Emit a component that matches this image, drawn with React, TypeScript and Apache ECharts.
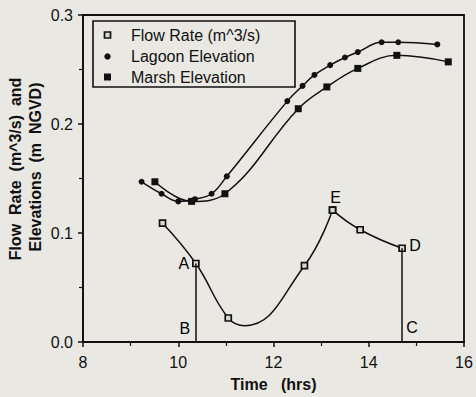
import React, { useEffect, useRef } from "react";
import * as echarts from "echarts";

const xTicks = [8, 10, 12, 14, 16];
const yTicks = [0, 0.1, 0.2, 0.3];

const flowTime = [9.67, 10.37, 11.05, 11.4, 12.65, 13.24, 13.82, 14.7];
const flowValue = [0.109, 0.072, 0.022, 0.015, 0.07, 0.121, 0.103, 0.086];
const flowMarked = [true, true, true, false, true, true, true, true];

const lagoonTime = [9.23, 9.65, 10.0, 10.35, 10.7, 11.02, 12.29, 12.61, 12.86, 13.19, 13.5, 13.77, 14.27, 14.62, 15.44];
const lagoonValue = [0.147, 0.136, 0.129, 0.131, 0.136, 0.152, 0.221, 0.235, 0.245, 0.254, 0.261, 0.266, 0.275, 0.275, 0.273];

const marshTime = [9.51, 10.28, 10.98, 12.52, 13.12, 13.77, 14.59, 15.67];
const marshValue = [0.147, 0.129, 0.136, 0.214, 0.234, 0.251, 0.263, 0.257];

const legendNames = ["Flow Rate (m^3/s)", "Lagoon Elevation", "Marsh Elevation"];
const yTitleLines = ["Flow  Rate  (m^3/s)  and", "Elevations  (m  NGVD)"];
const xTitle = "Time   (hrs)";

const FONT = "Liberation Sans, Arial, Helvetica, sans-serif";
const INK = "#111";
const BG = "#e9e8e3";

export default function App() {
  const ref = useRef<HTMLDivElement>(null);
  useEffect(() => {
    document.body.style.margin = "0";
    document.body.style.background = BG;
    if (!ref.current) return;
    const chart = echarts.init(ref.current, null, { renderer: "svg" });

    const flowPts = flowTime.map((t, i) =>
      flowMarked[i] ? [t, flowValue[i]] : { value: [t, flowValue[i]], symbol: "none" }
    );
    const peak = 5;
    const flowStyle = {
      symbol: "rect",
      symbolSize: 6,
      itemStyle: { color: "#d8d8d2", borderColor: INK, borderWidth: 1.7 },
      lineStyle: { color: INK, width: 1.5 },
      smooth: 0.45,
    };
    const lastF = flowTime.length - 1;

    const option: any = {
      animation: false,
      backgroundColor: BG,
      grid: { left: 83, right: 12, top: 15, bottom: 49, show: true, borderColor: INK, borderWidth: 1.8 },
      xAxis: {
        type: "value",
        min: xTicks[0],
        max: xTicks[xTicks.length - 1],
        interval: 2,
        name: xTitle,
        nameLocation: "middle",
        nameGap: 34,
        nameTextStyle: { fontFamily: FONT, fontWeight: "bold", fontSize: 16, color: INK },
        axisLine: { show: true, lineStyle: { color: INK, width: 1.8 } },
        axisTick: { show: true, length: 5, inside: false, lineStyle: { color: INK, width: 1.5 } },
        minorTick: { show: true, splitNumber: 2, length: 4, lineStyle: { color: INK, width: 1.2 } },
        splitLine: { show: false },
        axisLabel: { fontFamily: FONT, fontSize: 16, color: INK, margin: 12 },
      },
      yAxis: {
        type: "value",
        min: yTicks[0],
        max: yTicks[yTicks.length - 1],
        interval: 0.1,
        axisLine: { show: true, lineStyle: { color: INK, width: 1.8 } },
        axisTick: { show: true, length: 5, inside: false, lineStyle: { color: INK, width: 1.5 } },
        minorTick: { show: true, splitNumber: 2, length: 4, lineStyle: { color: INK, width: 1.2 } },
        splitLine: { show: false },
        axisLabel: { fontFamily: FONT, fontSize: 16, color: INK, margin: 10, formatter: (v: number) => v.toFixed(1) },
      },
      series: [
        {
          name: legendNames[1],
          type: "line",
          data: lagoonTime.map((t, i) => [t, lagoonValue[i]]),
          symbol: "circle",
          symbolSize: 6,
          itemStyle: { color: INK },
          lineStyle: { color: INK, width: 1.5 },
          smooth: 0.4,
        },
        {
          name: legendNames[2],
          type: "line",
          data: marshTime.map((t, i) => [t, marshValue[i]]),
          symbol: "rect",
          symbolSize: 7,
          itemStyle: { color: INK },
          lineStyle: { color: INK, width: 1.5 },
          smooth: 0.4,
        },
        {
          name: legendNames[0],
          type: "line",
          data: flowPts.slice(0, peak + 1),
          ...flowStyle,
          markLine: {
            silent: true,
            symbol: ["none", "none"],
            label: { show: false },
            lineStyle: { color: INK, width: 1.5, type: "solid" },
            data: [
              [{ coord: [flowTime[1], flowValue[1]] }, { coord: [flowTime[1], 0] }],
              [{ coord: [flowTime[lastF], flowValue[lastF]] }, { coord: [flowTime[lastF], 0] }],
            ],
          },
        },
        {
          name: legendNames[0],
          type: "line",
          data: flowPts.slice(peak),
          ...flowStyle,
        },
        {
          name: "labels",
          type: "scatter",
          symbolSize: 0,
          silent: true,
          itemStyle: { color: "#000", opacity: 1 },
          label: {
            show: true,
            fontFamily: FONT,
            fontSize: 16,
            color: "#000",
            textBorderWidth: 0,
            opacity: 1,
            align: "center",
            verticalAlign: "middle",
          },
          data: [
            { value: [flowTime[1], flowValue[1]], label: { formatter: "A", position: [-12, 0] } },
            { value: [flowTime[1], 0], label: { formatter: "B", position: [-11, -14] } },
            { value: [flowTime[lastF], 0], label: { formatter: "C", position: [10, -15] } },
            { value: [flowTime[lastF], flowValue[lastF]], label: { formatter: "D", position: [13, -3] } },
            { value: [flowTime[peak], flowValue[peak]], label: { formatter: "E", position: [3, -13] } },
          ],
          z: 5,
        },
      ],
      graphic: [
        {
          type: "rect",
          shape: { x: 93, y: 21, width: 202, height: 66 },
          style: { fill: "none", stroke: INK, lineWidth: 1.6 },
        },
        {
          type: "rect",
          shape: { x: 104.5, y: 32, width: 6, height: 6 },
          style: { fill: "#d8d8d2", stroke: INK, lineWidth: 1.7 },
        },
        { type: "circle", shape: { cx: 107.5, cy: 56.5, r: 3.2 }, style: { fill: INK } },
        { type: "rect", shape: { x: 104, y: 73.5, width: 7, height: 7 }, style: { fill: INK } },
        ...legendNames.map((n, i) => ({
          type: "text",
          x: 131,
          y: [35, 56.5, 77][i],
          style: { text: n, font: `16px ${FONT}`, fill: INK, verticalAlign: "middle", align: "left" },
        })),
        ...yTitleLines.map((n, i) => ({
          type: "text",
          x: [15, 35][i],
          y: [169, 167][i],
          rotation: Math.PI / 2,
          style: { text: n, font: `bold 16px ${FONT}`, fill: INK, verticalAlign: "middle", align: "center" },
        })),
      ],
    };
    chart.setOption(option);
    return () => chart.dispose();
  }, []);
  return (
    <div
      ref={ref}
      style={{ position: "fixed", left: 0, top: 0, width: 476, height: 397, background: BG }}
    />
  );
}
